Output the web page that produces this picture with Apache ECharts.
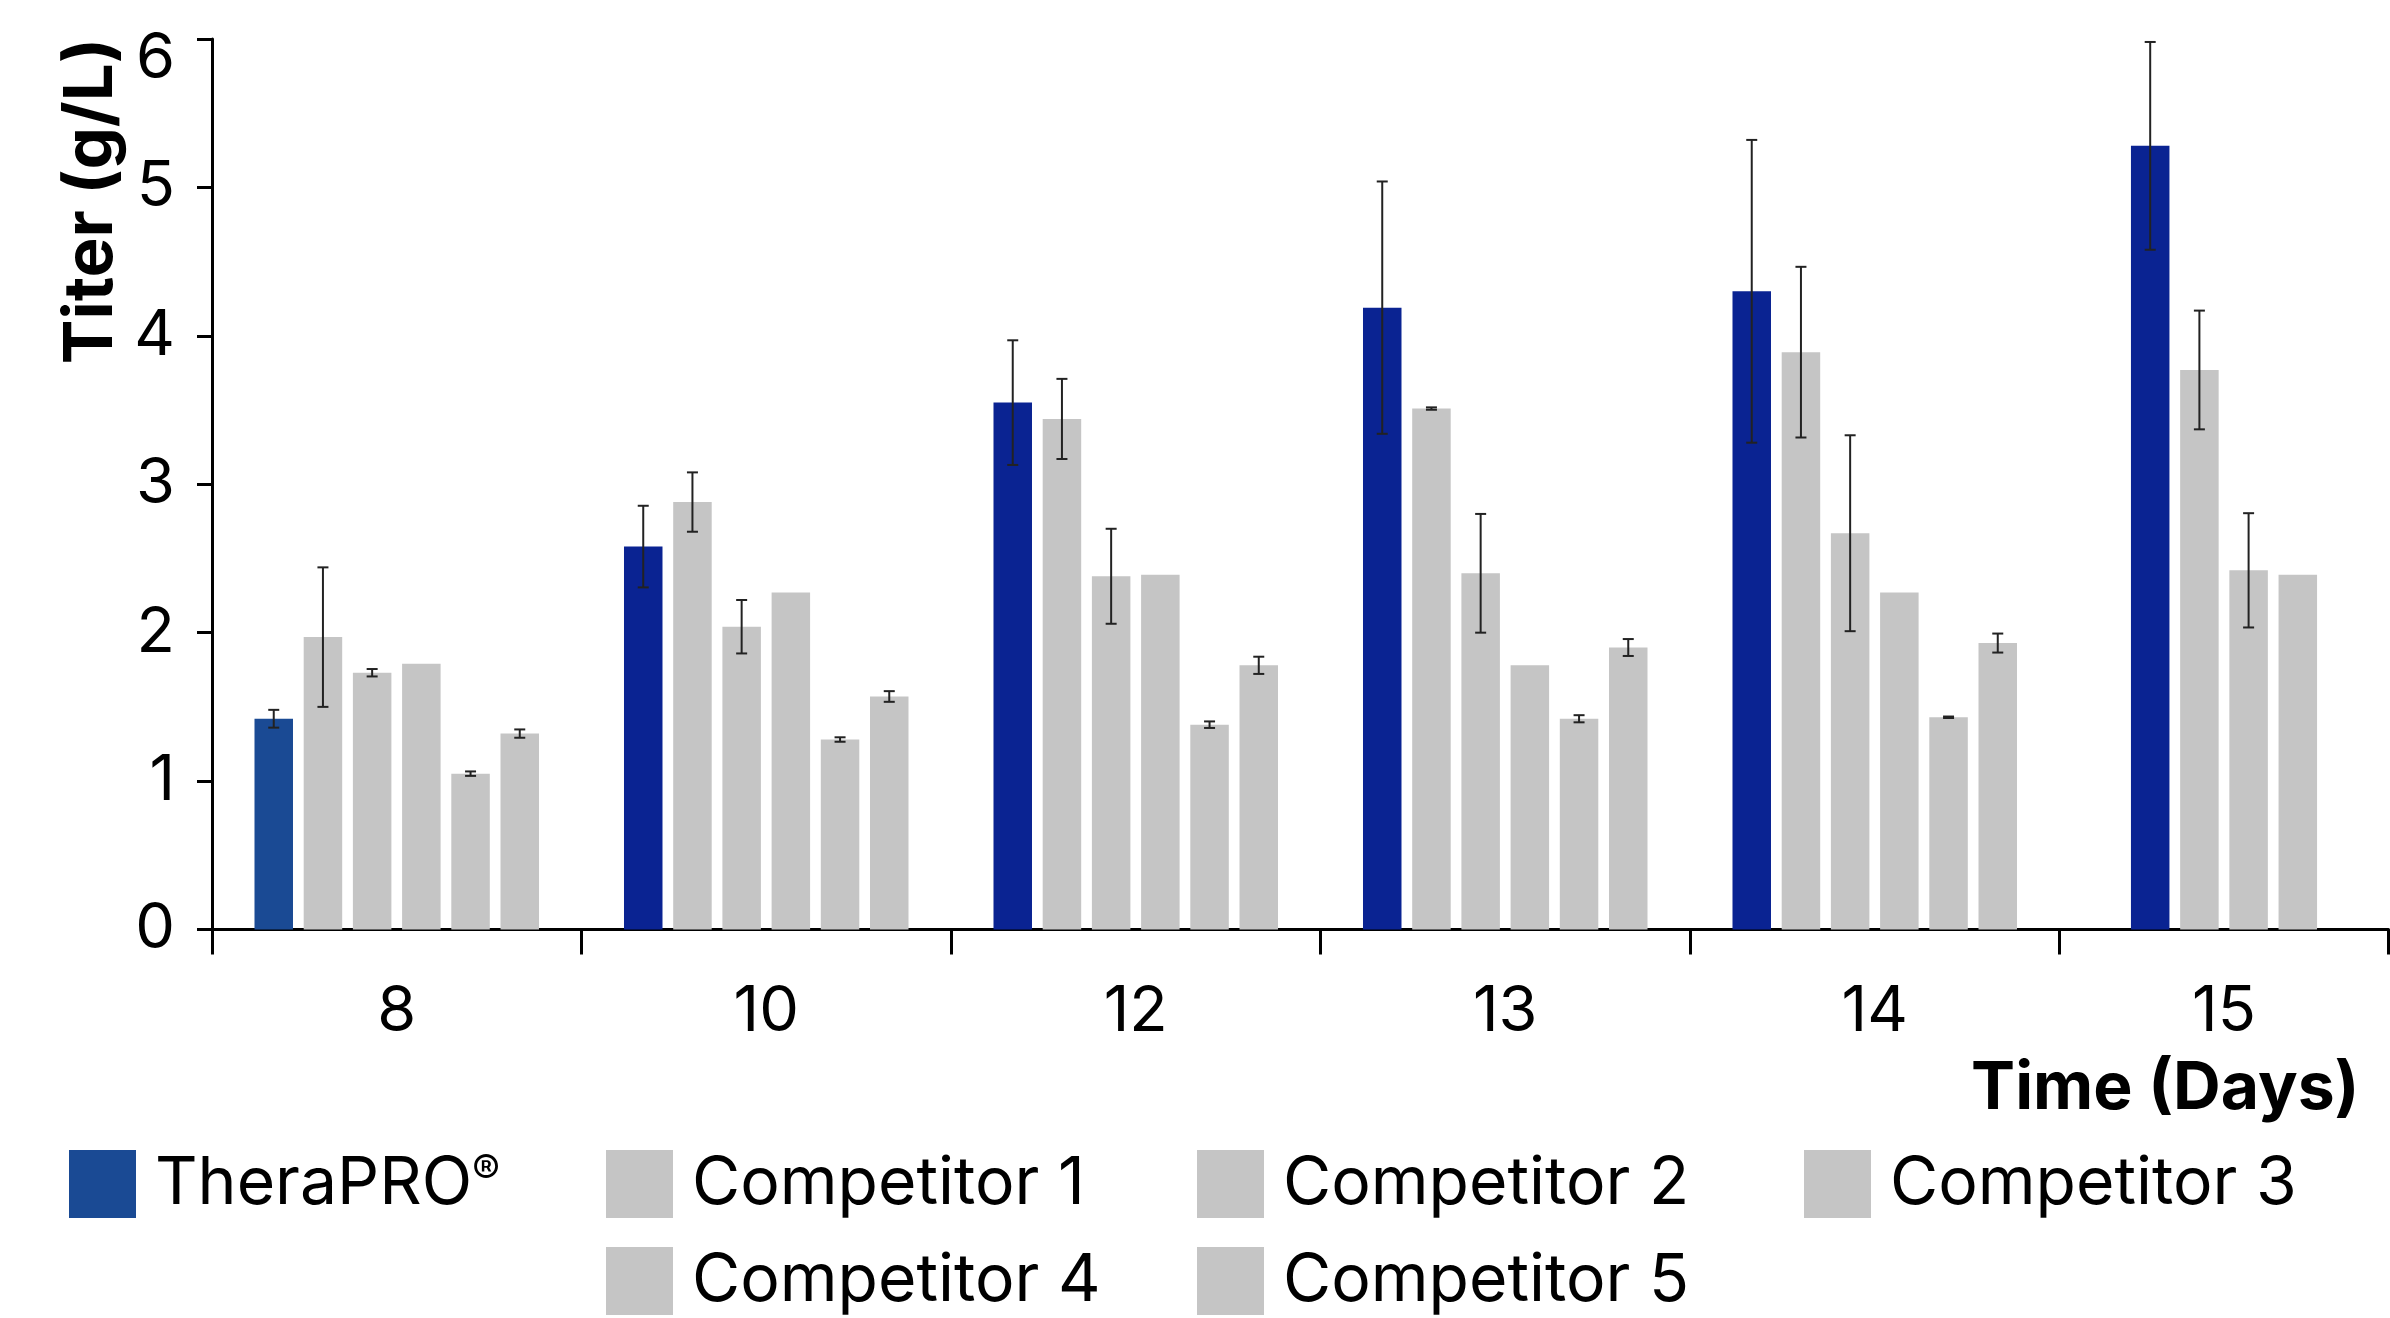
<!DOCTYPE html>
<html>
<head>
<meta charset="utf-8">
<script src="https://cdn.jsdelivr.net/npm/echarts@6/dist/echarts.min.js"></script>
<style>
html,body{margin:0;padding:0;background:#fff;}
#chart{width:2390px;height:1318px;}
</style>
</head>
<body>
<div id="chart"></div>
<script>
// ---- data ----
const categories = ['8', '10', '12', '13', '14', '15'];
const seriesNames = ['TheraPRO®', 'Competitor 1', 'Competitor 2', 'Competitor 3', 'Competitor 4', 'Competitor 5'];
const theraPRO    = [1.42, 2.58, 3.55, 4.19, 4.30, 5.28];
const theraErr    = [0.06, 0.275, 0.42, 0.85, 1.02, 0.70];
const comp1       = [1.97, 2.88, 3.44, 3.51, 3.89, 3.77];
const comp1Err    = [0.47, 0.20, 0.27, 0.008, 0.575, 0.40];
const comp2       = [1.73, 2.04, 2.38, 2.40, 2.67, 2.42];
const comp2Err    = [0.025, 0.18, 0.32, 0.40, 0.66, 0.385];
const comp3       = [1.79, 2.27, 2.39, 1.78, 2.27, 2.39];
const comp3Err    = [null, null, null, null, null, null];
const comp4       = [1.05, 1.28, 1.38, 1.42, 1.43, null];
const comp4Err    = [0.015, 0.015, 0.022, 0.024, 0.005, null];
const comp5       = [1.32, 1.57, 1.78, 1.90, 1.93, null];
const comp5Err    = [0.028, 0.036, 0.058, 0.057, 0.064, null];
const yTicks      = [0, 1, 2, 3, 4, 5, 6];

const values = [theraPRO, comp1, comp2, comp3, comp4, comp5];
const errors = [theraErr, comp1Err, comp2Err, comp3Err, comp4Err, comp5Err];

// ---- style ----
const FONT = 'Inter';
const FS = 63;        // tick labels
const FS_LEG = 66;    // legend
const FS_NAME = 66;   // axis titles
const BLUE = '#0a2392';
const BLUE_FIRST = '#1a4a94';
const GRAY = '#c5c5c5';
const BAR_W = 38.5;
const BAR_GAP = 0.278;
const CAP_W = 11;

const GRID_TOP = 39, GRID_H = 890.5;
const grids = [
  { left: 212, top: GRID_TOP, width: 1847.5, height: GRID_H },
  { left: 2059.5, top: GRID_TOP, width: 329, height: GRID_H }
];

// group 0: first five days, six series; group 1: last day, four series
const groupCats = [[0, 1, 2, 3, 4], [5]];
const groupSeries = [[0, 1, 2, 3, 4, 5], [0, 1, 2, 3]];

function axisX(gi) {
  const ax = {
    type: 'category', gridIndex: gi,
    data: groupCats[gi].map(i => categories[i]),
    axisLine: { show: true, lineStyle: { color: '#000', width: 3 } },
    axisTick: { show: true, length: 25, lineStyle: { color: '#000', width: 3 } },
    axisLabel: { fontSize: FS, fontFamily: FONT, color: '#000', margin: 51, interval: 0 },
    splitLine: { show: false }
  };
  if (gi === 1) {
    ax.name = 'Time (Days)';
    ax.nameLocation = 'end';
    ax.nameGap = -29;
    ax.nameTextStyle = { fontSize: FS_NAME, fontFamily: FONT, fontWeight: 'bold', color: '#000',
      align: 'right', verticalAlign: 'top', padding: [127, 0, 0, 0] };
  }
  return ax;
}

function axisY(gi) {
  const ax = {
    type: 'value', gridIndex: gi, min: yTicks[0], max: yTicks[yTicks.length - 1], interval: 1,
    splitLine: { show: false }
  };
  if (gi === 1) { ax.show = false; return ax; }
  Object.assign(ax, {
    axisLine: { show: true, lineStyle: { color: '#000', width: 3 } },
    axisTick: { show: true, length: 15, lineStyle: { color: '#000', width: 3 } },
    axisLabel: {
      fontSize: FS, fontFamily: FONT, color: '#000', margin: 37,
      formatter: v => v === 6 ? '{six|6}' : String(v),
      rich: { six: { fontSize: FS, fontFamily: FONT, color: '#000', padding: [40, 0, 0, 0] } }
    },
    name: 'Titer (g/L)', nameLocation: 'end', nameRotate: 90, nameGap: 1,
    nameTextStyle: { fontSize: 67, fontFamily: FONT, fontWeight: 'bold', color: '#000',
      align: 'right', verticalAlign: 'bottom', padding: [0, 0, 87, 0] }
  });
  return ax;
}

const series = [];
groupSeries.forEach((sIdx, gi) => {
  sIdx.forEach(s => {
    series.push({
      type: 'bar', name: seriesNames[s], xAxisIndex: gi, yAxisIndex: gi,
      barWidth: BAR_W, barGap: (BAR_GAP * 100) + '%',
      itemStyle: { color: s === 0 ? BLUE : GRAY },
      data: groupCats[gi].map(c => {
        const v = values[s][c];
        if (s === 0 && c === 0) return { value: v, itemStyle: { color: BLUE_FIRST } };
        return v;
      }),
      z: 2
    });
  });
  // error bars
  const errData = [];
  sIdx.forEach((s, slot) => {
    groupCats[gi].forEach((c, k) => {
      const v = values[s][c], e = errors[s][c];
      if (v != null && e != null) errData.push([k, slot, v, e]);
    });
  });
  const n = sIdx.length;
  series.push({
    type: 'custom', name: 'err' + gi, xAxisIndex: gi, yAxisIndex: gi, z: 5,
    encode: { x: 0, y: 2 },
    data: errData,
    renderItem: function (params, api) {
      const cat = api.value(0), slot = api.value(1), v = api.value(2), e = api.value(3);
      const step = BAR_W * (1 + BAR_GAP);
      const off = (slot - (n - 1) / 2) * step;
      const hi = api.coord([cat, v + e]);
      const lo = api.coord([cat, v - e]);
      const x = hi[0] + off;
      const st = { stroke: '#222', lineWidth: 2 };
      return {
        type: 'group', children: [
          { type: 'line', shape: { x1: x, y1: hi[1], x2: x, y2: lo[1] }, style: st },
          { type: 'line', shape: { x1: x - CAP_W / 2, y1: hi[1], x2: x + CAP_W / 2, y2: hi[1] }, style: st },
          { type: 'line', shape: { x1: x - CAP_W / 2, y1: lo[1], x2: x + CAP_W / 2, y2: lo[1] }, style: st }
        ]
      };
    }
  });
});

// legend: one component per entry, laid out in the reference's columns
const legendSlots = [
  { s: 0, left: 69,   top: 1150 },
  { s: 1, left: 606,  top: 1150 },
  { s: 2, left: 1197, top: 1150 },
  { s: 3, left: 1804, top: 1150 },
  { s: 4, left: 606,  top: 1247 },
  { s: 5, left: 1197, top: 1247 }
];
const legends = legendSlots.map(sl => ({
  orient: 'horizontal', icon: 'rect', itemWidth: 67, itemHeight: 68, itemGap: 0, padding: 0,
  left: sl.left, top: sl.top, selectedMode: false,
  textStyle: { fontSize: FS_LEG, fontFamily: FONT, color: '#000', padding: [0, 0, 0, 14],
    rich: { sup: { fontSize: 42, fontFamily: FONT, color: '#000', verticalAlign: 'top', padding: [0, 0, 20, 0] } } },
  formatter: name => name === 'TheraPRO®' ? 'TheraPRO{sup|®}' : name,
  data: [sl.s === 0 ? { name: seriesNames[0], itemStyle: { color: BLUE_FIRST } } : seriesNames[sl.s]]
}));

const option = {
  backgroundColor: '#fff',
  animation: false,
  grid: grids,
  xAxis: [axisX(0), axisX(1)],
  yAxis: [axisY(0), axisY(1)],
  legend: legends,
  series: series
};

const chart = echarts.init(document.getElementById('chart'), null, { renderer: 'canvas' });
chart.setOption(option);
</script>
</body>
</html>
